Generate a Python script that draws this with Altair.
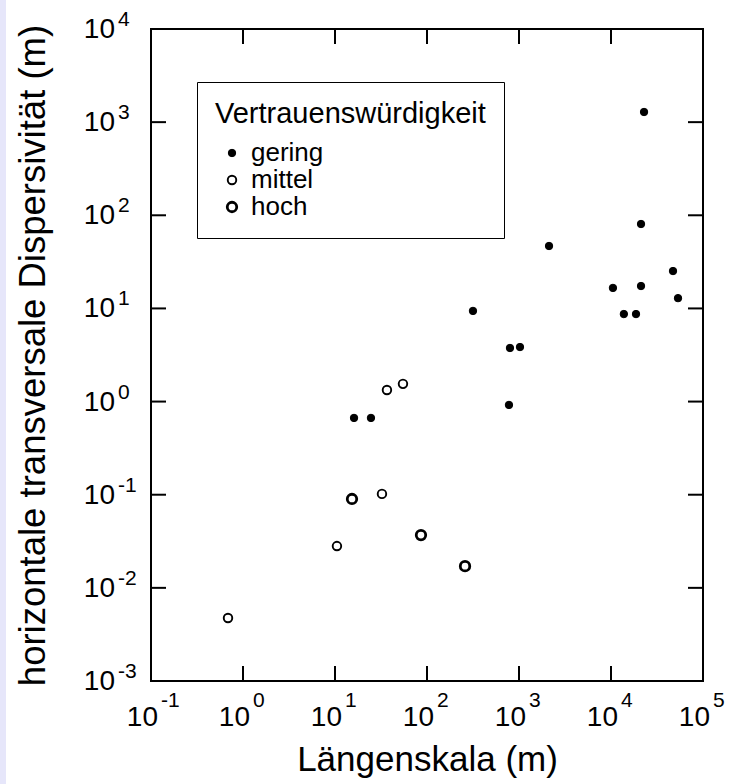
import altair as alt
import pandas as pd

# ---- data ----
gering_x = [22860, 21200, 2120, 47200, 10500, 21200, 53500, 13800, 18700, 316, 798, 1025, 778, 16.1, 24.6]
gering_y = [1285, 80.6, 46.8, 25.2, 16.6, 17.4, 12.9, 8.7, 8.7, 9.4, 3.76, 3.85, 0.92, 0.667, 0.667]
mittel_x = [36.7, 54.8, 32.4, 10.5, 0.687]
mittel_y = [1.33, 1.55, 0.102, 0.0281, 0.00474]
hoch_x = [15.3, 86, 259]
hoch_y = [0.090, 0.0369, 0.0171]

categories = ["gering", "mittel", "hoch"]
x_exponents = [-1, 0, 1, 2, 3, 4, 5]
y_exponents = [-3, -2, -1, 0, 1, 2, 3, 4]
x_inner_ticks = [1, 10, 100, 1000, 10000]
y_inner_ticks = [0.01, 0.1, 1, 10, 100, 1000]

FONT = "Liberation Sans"
W, H = 552, 652

pts = pd.DataFrame(
    [{"x": a, "y": b, "cat": "gering"} for a, b in zip(gering_x, gering_y)]
    + [{"x": a, "y": b, "cat": "mittel"} for a, b in zip(mittel_x, mittel_y)]
    + [{"x": a, "y": b, "cat": "hoch"} for a, b in zip(hoch_x, hoch_y)]
)

xscale = alt.Scale(type="log", domain=[0.1, 1e5], nice=False)
yscale = alt.Scale(type="log", domain=[1e-3, 1e4], nice=False)

x_title = "Längenskala (m)"
y_title = "horizontale transversale Dispersivität (m)"
xaxis = alt.Axis(title=x_title, labels=False, ticks=False, domain=False,
                 grid=False, titlePadding=61, titleFontSize=35, titleFont=FONT,
                 titleFontWeight="normal", titleColor="black")
yaxis = alt.Axis(title=y_title, labels=False, ticks=False, domain=False, grid=False,
                 titlePadding=99, titleFontSize=36.5, titleFont=FONT,
                 titleFontWeight="normal", titleColor="black")


def X(field="x:Q"):
    return alt.X(field, scale=xscale, axis=xaxis, title=x_title)


def Y(field="y:Q"):
    return alt.Y(field, scale=yscale, axis=yaxis, title=y_title)


leg_title = "Vertrauenswürdigkeit"

points = alt.Chart(pts).mark_point(
    shape="circle", filled=True, stroke="black", opacity=1, fillOpacity=1, strokeOpacity=1
).encode(
    x=X(), y=Y(),
    fill=alt.Fill("cat:N", scale=alt.Scale(domain=categories, range=["black", "white", "white"]),
                  title=leg_title),
    size=alt.Size("cat:N", scale=alt.Scale(domain=categories, range=[55, 90, 150]),
                  title=leg_title),
    strokeWidth=alt.StrokeWidth("cat:N", scale=alt.Scale(domain=categories, range=[1, 2.8, 3.2]),
                                title=leg_title),
)

xt = pd.DataFrame({"x": x_inner_ticks})
yt = pd.DataFrame({"y": y_inner_ticks})
tick_style = dict(color="black", strokeWidth=2)
xb = alt.Chart(xt).mark_rule(**tick_style).encode(
    x=X(), y=alt.value(H), y2=alt.value(H - 15))
xtp = alt.Chart(xt).mark_rule(**tick_style).encode(
    x=X(), y=alt.value(0), y2=alt.value(15))
yl = alt.Chart(yt).mark_rule(**tick_style).encode(
    y=Y(), x=alt.value(0), x2=alt.value(15))
yr = alt.Chart(yt).mark_rule(**tick_style).encode(
    y=Y(), x=alt.value(W), x2=alt.value(W - 15))

xl = pd.DataFrame({"x": [10.0 ** e for e in x_exponents], "e": [str(e) for e in x_exponents]})
yl_df = pd.DataFrame({"y": [10.0 ** e for e in y_exponents], "e": [str(e) for e in y_exponents]})

x_base = alt.Chart(xl).mark_text(font=FONT, fontSize=28, align="right", baseline="middle",
                                 dx=7, color="black").encode(
    x=X(), y=alt.value(H + 37), text=alt.value("10"))
x_exp = alt.Chart(xl).mark_text(font=FONT, fontSize=21, align="left", baseline="middle",
                                dx=10, color="black").encode(
    x=X(), y=alt.value(H + 20), text="e:N")
y_base = alt.Chart(yl_df).mark_text(font=FONT, fontSize=28, align="right", baseline="middle",
                                    dy=1, color="black").encode(
    y=Y(), x=alt.value(-36), text=alt.value("10"))
y_exp = alt.Chart(yl_df).mark_text(font=FONT, fontSize=21, align="left", baseline="middle",
                                   dy=-9, color="black").encode(
    y=Y(), x=alt.value(-33), text="e:N")

band = alt.Chart(pd.DataFrame({"k": [0]})).mark_rect(color="#e6e6fa").encode(
    x=alt.value(-151), x2=alt.value(-145), y=alt.value(-29), y2=alt.value(H + 103))

chart = alt.layer(points, band, xb, xtp, yl, yr, x_base, x_exp, y_base, y_exp).properties(
    width=W, height=H,
    autosize=alt.AutoSizeParams(type="none"),
    padding={"left": 151, "top": 29, "right": 32, "bottom": 103},
    background="white",
).configure_view(
    stroke="black", strokeWidth=2
).configure_legend(
    orient="none", legendX=46, legendY=53,
    strokeColor="black", padding=18,
    titleFont=FONT, titleFontSize=29, titleFontWeight="normal", titleColor="black",
    titleLimit=500, labelLimit=300,
    labelFont=FONT, labelFontSize=26, labelColor="black",
    titlePadding=11, rowPadding=1, symbolOffset=4, labelOffset=6,
)

chart.save("out.html", embed_options={"renderer": "svg", "actions": False})
